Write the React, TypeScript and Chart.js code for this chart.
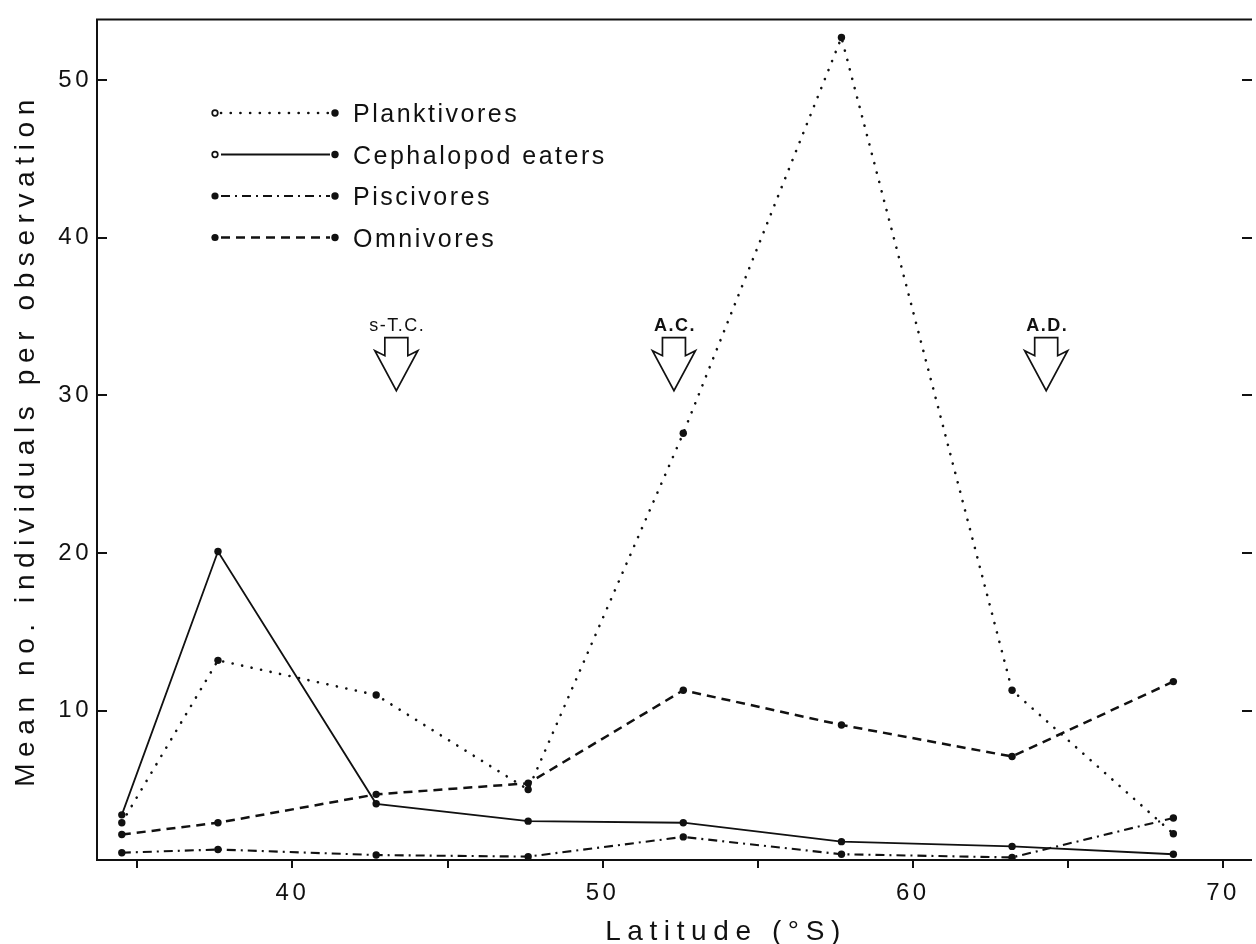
import React, { useEffect, useRef } from "react";
import { Chart, registerables } from "chart.js";

Chart.register(...registerables);

// Latitude of each survey band (°S)
const latitudes = [34.5, 37.6, 42.7, 47.6, 52.6, 57.7, 63.2, 68.4];

// Mean number of individuals per observation, by feeding guild
const planktivores = [2.9, 13.2, 11.0, 5.0, 27.6, 52.7, 11.3, 2.2];
const cephalopodEaters = [3.4, 20.1, 4.1, 3.0, 2.9, 1.7, 1.4, 0.9];
const piscivores = [1.0, 1.2, 0.85, 0.75, 2.0, 0.9, 0.7, 3.2];
const omnivores = [2.15, 2.9, 4.7, 5.4, 11.3, 9.1, 7.1, 11.85];

const seriesNames = ["Planktivores", "Cephalopod eaters", "Piscivores", "Omnivores"];
const seriesValues = [planktivores, cephalopodEaters, piscivores, omnivores];

// Axis ticks
const xTickValues = [35, 40, 45, 50, 55, 60, 65, 70];
const yTickValues = [10, 20, 30, 40, 50];

// Oceanic fronts marked with arrows
const frontNames = ["s-T.C.", "A.C.", "A.D."];
const frontLatitudes = [43.35, 52.3, 64.3];
const frontArrowTipValue = 30.3;

const INK = "#111";
const FONT = "'Liberation Sans', Arial, Helvetica, sans-serif";

const lineStyles = [
  { dash: [0.1, 9.6], width: 2.6, cap: "round" as CanvasLineCap },
  { dash: [] as number[], width: 1.8, cap: "butt" as CanvasLineCap },
  { dash: [9, 5, 2, 5], width: 2.1, cap: "butt" as CanvasLineCap },
  { dash: [9, 6], width: 2.5, cap: "butt" as CanvasLineCap },
];
const legendStartOpen = [true, true, false, false];
const frontBold = [false, true, true];

const tickSpacingPlugin = {
  id: "tickSpacing",
  beforeDraw(chart: any) {
    (chart.ctx as any).letterSpacing = "3.5px";
  },
};

const framePlugin = {
  id: "frame",
  beforeDatasetsDraw(chart: any) {
    const { ctx, chartArea: a, scales } = chart;
    ctx.save();
    ctx.strokeStyle = INK;
    ctx.lineWidth = 2;
    ctx.setLineDash([]);
    ctx.beginPath();
    ctx.moveTo(a.right, a.top);
    ctx.lineTo(a.left, a.top);
    ctx.lineTo(a.left, a.bottom);
    ctx.lineTo(a.right, a.bottom);
    ctx.stroke();
    ctx.beginPath();
    for (const v of yTickValues) {
      const y = Math.round(scales.y.getPixelForValue(v));
      ctx.moveTo(a.left, y);
      ctx.lineTo(a.left + 10, y);
      ctx.moveTo(a.right - 10, y);
      ctx.lineTo(a.right, y);
    }
    ctx.stroke();
    ctx.restore();
  },
};

const keyPlugin = {
  id: "seriesKey",
  afterDraw(chart: any) {
    const { ctx } = chart;
    chart.data.datasets.forEach((ds: any, i: number) => {
      const y = 113 + i * 41.5;
      const st = lineStyles[i];
      ctx.save();
      ctx.strokeStyle = INK;
      ctx.fillStyle = INK;
      ctx.lineWidth = st.width;
      ctx.lineCap = st.cap;
      ctx.setLineDash(st.dash);
      ctx.beginPath();
      ctx.moveTo(221, y);
      ctx.lineTo(330, y);
      ctx.stroke();
      ctx.setLineDash([]);
      ctx.lineCap = "butt";
      // start marker
      ctx.beginPath();
      if (legendStartOpen[i]) {
        ctx.lineWidth = 1.7;
        ctx.arc(215, y, 2.8, 0, Math.PI * 2);
        ctx.stroke();
      } else {
        ctx.arc(215, y, 3.6, 0, Math.PI * 2);
        ctx.fill();
      }
      // end marker
      ctx.beginPath();
      ctx.arc(335, y, 3.7, 0, Math.PI * 2);
      ctx.fill();
      ctx.font = `25px ${FONT}`;
      (ctx as any).letterSpacing = "2.5px";
      ctx.textAlign = "left";
      ctx.textBaseline = "alphabetic";
      ctx.fillText(ds.label, 353, y + 9);
      ctx.restore();
    });
  },
};

const frontsPlugin = {
  id: "fronts",
  afterDatasetsDraw(chart: any) {
    const { ctx, scales } = chart;
    const tipY = scales.y.getPixelForValue(frontArrowTipValue);
    frontLatitudes.forEach((lat, i) => {
      const x = scales.x.getPixelForValue(lat);
      const pts: [number, number][] = [
        [-11.5, -53],
        [11.5, -53],
        [11.5, -35],
        [21.5, -40],
        [0, 0],
        [-21.5, -40],
        [-11.5, -35],
      ];
      ctx.save();
      ctx.beginPath();
      pts.forEach(([dx, dy], k) => {
        if (k === 0) ctx.moveTo(x + dx, tipY + dy);
        else ctx.lineTo(x + dx, tipY + dy);
      });
      ctx.closePath();
      ctx.fillStyle = "#fff";
      ctx.fill();
      ctx.lineWidth = 1.7;
      ctx.lineJoin = "miter";
      ctx.strokeStyle = INK;
      ctx.setLineDash([]);
      ctx.stroke();
      ctx.fillStyle = INK;
      ctx.font = `${frontBold[i] ? "bold " : ""}18px ${FONT}`;
      (ctx as any).letterSpacing = "1.5px";
      ctx.textAlign = "center";
      ctx.textBaseline = "alphabetic";
      ctx.fillText(frontNames[i], x + 1, tipY - 60);
      ctx.restore();
    });
  },
};

const titlesPlugin = {
  id: "axisTitles",
  afterDraw(chart: any) {
    const { ctx } = chart;
    ctx.save();
    ctx.fillStyle = INK;
    ctx.font = `28px ${FONT}`;
    (ctx as any).letterSpacing = "6.6px";
    ctx.textAlign = "center";
    ctx.textBaseline = "alphabetic";
    ctx.fillText("Latitude (°S)", 726, 940);
    ctx.translate(34, 444);
    ctx.rotate(-Math.PI / 2);
    ctx.fillText("Mean no. individuals per observation", 4, 0);
    ctx.restore();
  },
};

export default function App() {
  const ref = useRef<HTMLCanvasElement>(null);

  useEffect(() => {
    const canvas = ref.current;
    if (!canvas) return;
    const datasets = seriesValues.map((vals, i) => ({
      label: seriesNames[i],
      data: latitudes.map((x, k) => ({ x, y: vals[k] })),
      borderColor: INK,
      borderWidth: lineStyles[i].width,
      borderDash: lineStyles[i].dash,
      borderCapStyle: lineStyles[i].cap,
      pointRadius: 3.7,
      pointBackgroundColor: INK,
      pointBorderWidth: 0,
      pointStyle: "circle",
      tension: 0,
      fill: false,
    }));

    const chart = new Chart(canvas, {
      type: "line",
      data: { datasets },
      options: {
        animation: false,
        responsive: false,
        devicePixelRatio: 1,
        events: [],
        layout: { padding: { top: 15, left: 0, right: 0, bottom: 0 } },
        plugins: { legend: { display: false }, tooltip: { enabled: false } },
        scales: {
          x: {
            type: "linear",
            min: 33.7,
            max: 70.935,
            afterBuildTicks: (s: any) => {
              s.ticks = xTickValues.map((v) => ({ value: v }));
            },
            afterFit: (s: any) => {
              s.height = 84;
            },
            grid: {
              display: true,
              drawOnChartArea: false,
              drawTicks: true,
              tickLength: 8,
              lineWidth: 2,
              color: INK,
            },
            border: { display: false },
            ticks: {
              padding: 11,
              color: INK,
              autoSkip: false,
              maxRotation: 0,
              font: { family: FONT, size: 24 },
              callback: (v: any) => (Number(v) % 10 === 0 ? String(v) : ""),
            },
          },
          y: {
            type: "linear",
            min: 0.536,
            max: 53.85,
            afterBuildTicks: (s: any) => {
              s.ticks = yTickValues.map((v) => ({ value: v }));
            },
            afterFit: (s: any) => {
              s.width = 97;
            },
            grid: { display: false, drawTicks: false },
            border: { display: false },
            ticks: {
              padding: 5,
              color: INK,
              font: { family: FONT, size: 24 },
            },
          },
        },
      },
      plugins: [tickSpacingPlugin, framePlugin, frontsPlugin, keyPlugin, titlesPlugin],
    } as any);

    return () => chart.destroy();
  }, []);

  return (
    <div style={{ position: "fixed", left: 0, top: 0, width: 1256, height: 944, background: "#fff" }}>
      <canvas ref={ref} width={1256} height={944} style={{ display: "block", width: 1256, height: 944 }} />
    </div>
  );
}
